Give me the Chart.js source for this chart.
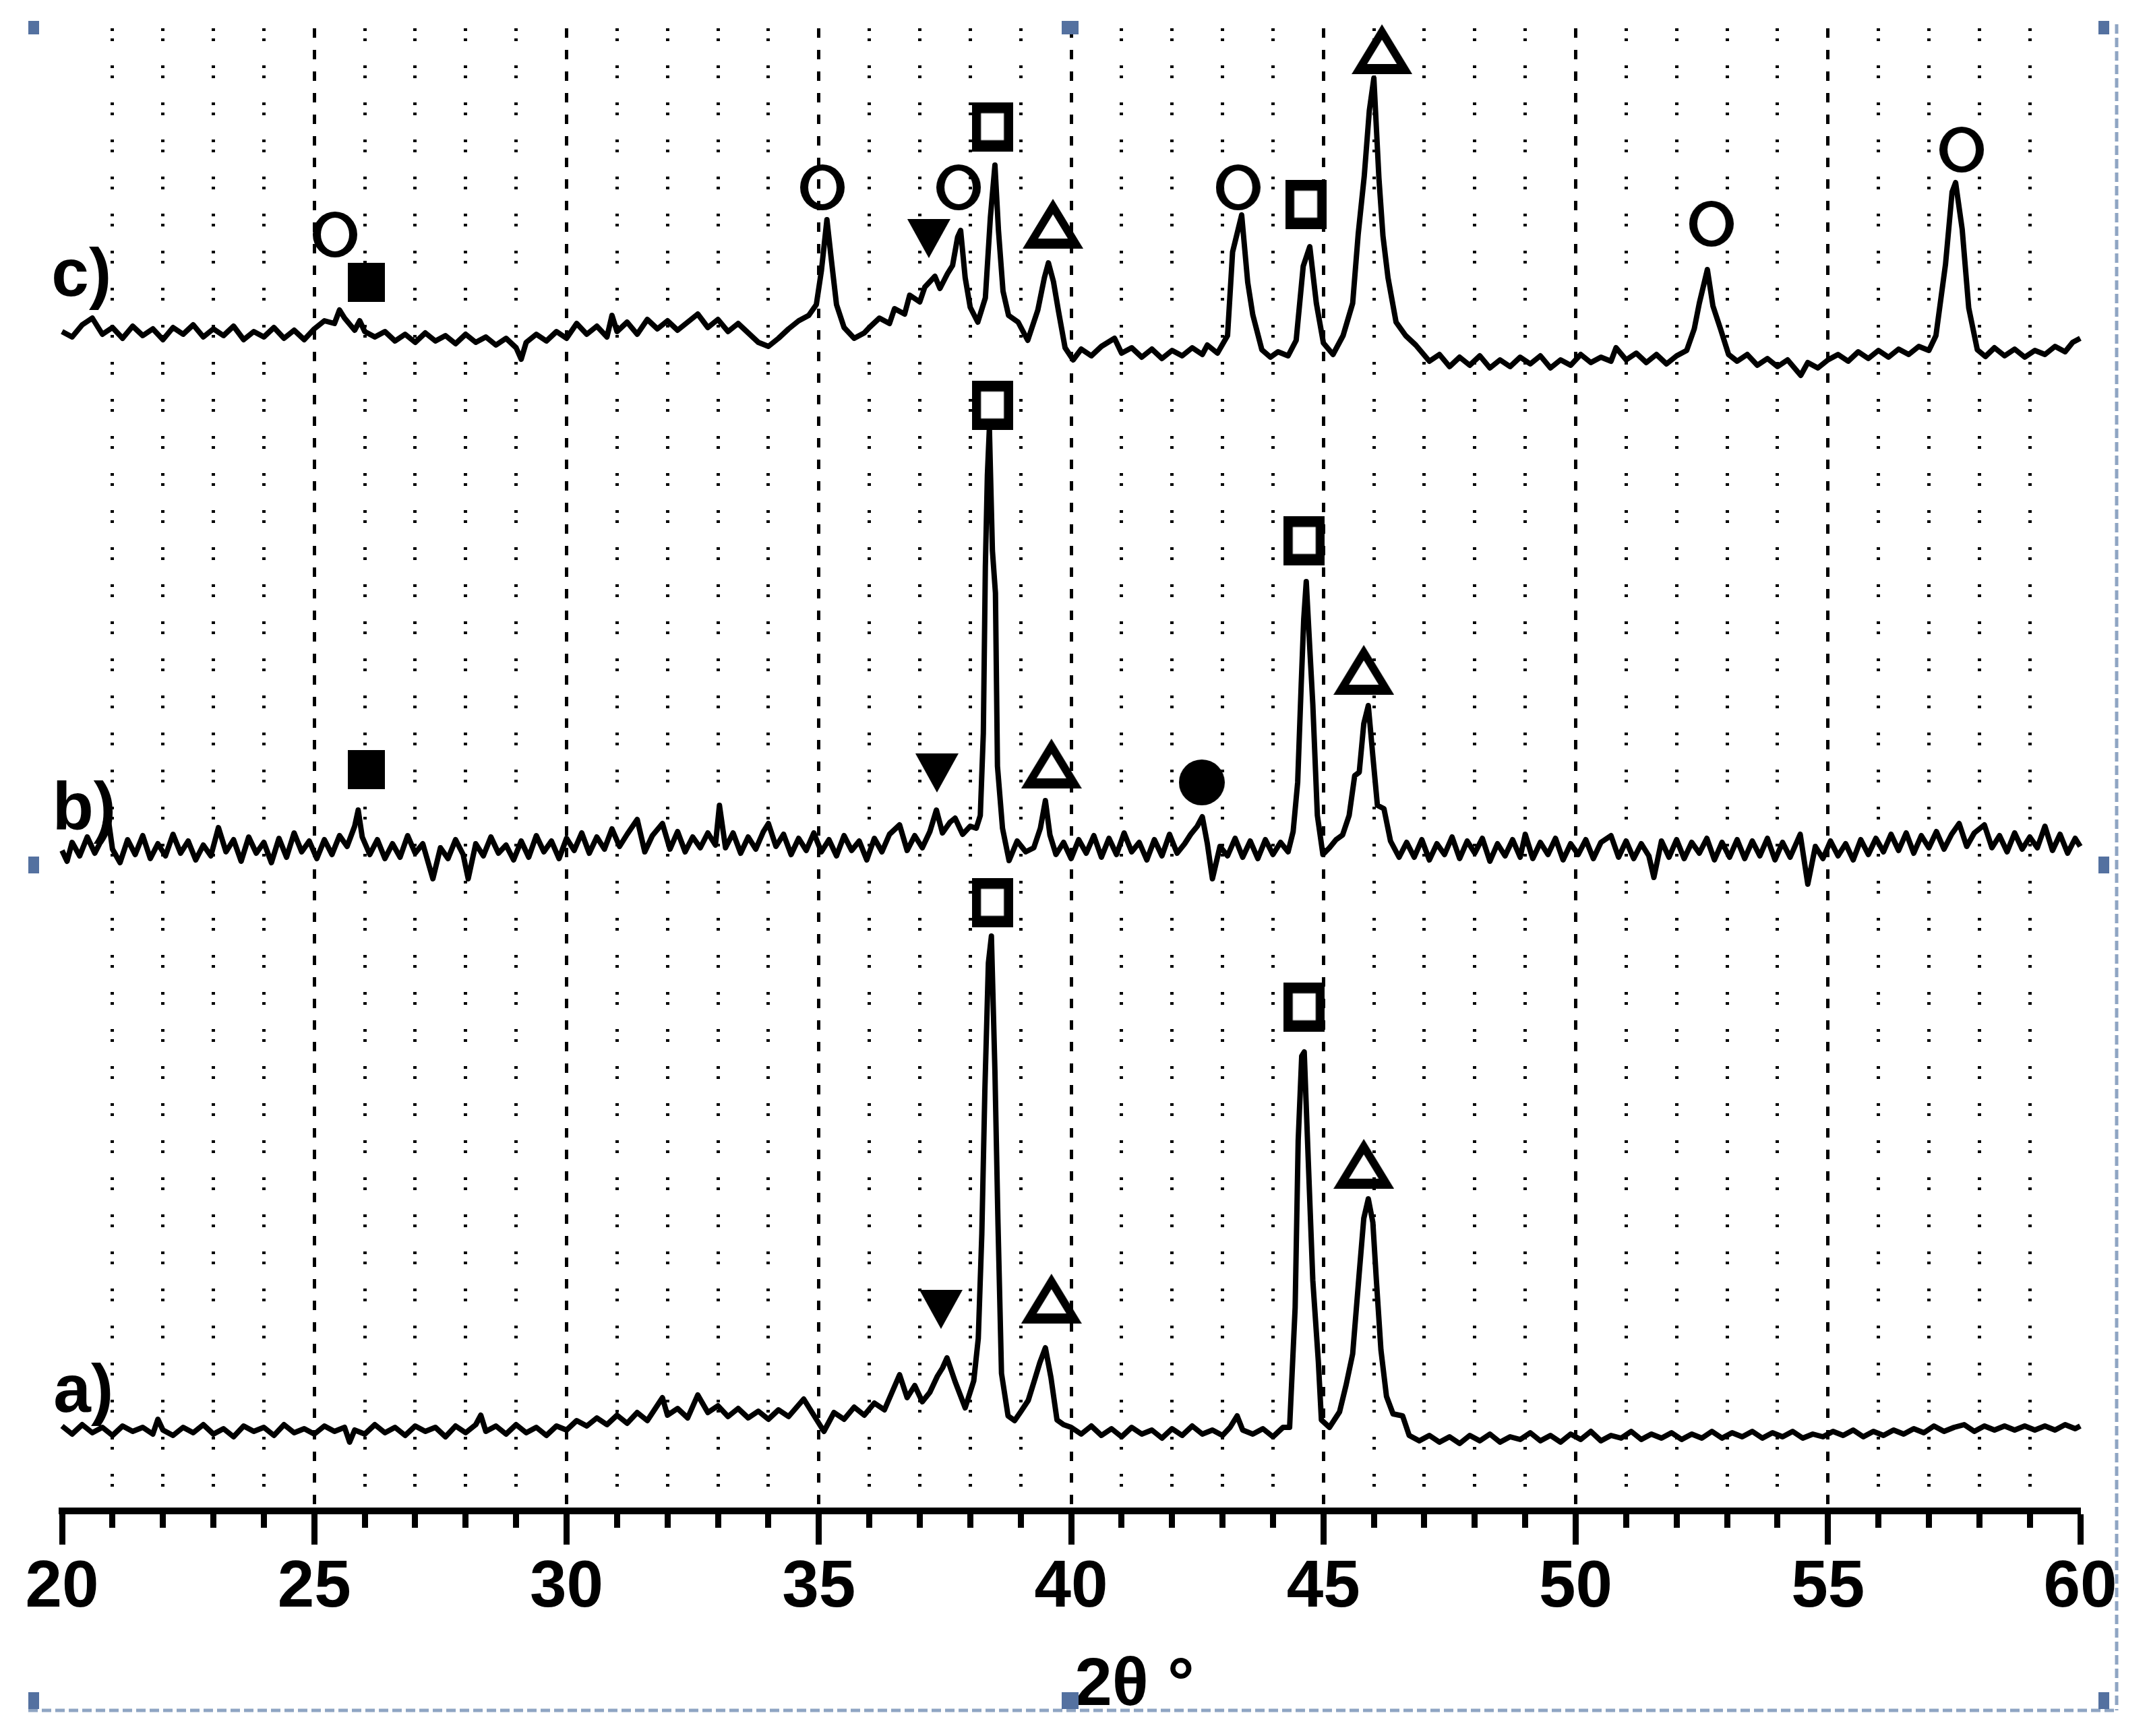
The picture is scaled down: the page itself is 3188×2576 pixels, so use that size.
<!DOCTYPE html>
<html>
<head>
<meta charset="utf-8">
<script src="https://cdn.jsdelivr.net/npm/chart.js@4.4.1/dist/chart.umd.min.js"></script>
<style>
  html, body { margin: 0; padding: 0; background: #fff; }
  #wrap { width: 3188px; height: 2576px; }
</style>
</head>
<body>
<div id="wrap"><canvas id="xrd" width="3188" height="2576"></canvas></div>
<script>
// [2theta, intensity] (arbitrary units, already stacked)
const scanC = [
  [20.0,175.0],[20.2,174.2],[20.4,176.0],[20.6,177.0],[20.8,174.6],[21.0,175.6],[21.2,174.0],[21.4,175.8],
  [21.6,174.4],[21.8,175.4],[22.0,173.8],[22.2,175.6],[22.4,174.6],[22.6,176.0],[22.8,174.2],[23.0,175.4],
  [23.2,174.4],[23.4,175.8],[23.6,173.8],[23.8,175.0],[24.0,174.2],[24.2,175.6],[24.4,174.0],[24.6,175.2],
  [24.8,173.8],[25.0,175.4],[25.2,176.6],[25.4,176.2],[25.5,178.2],[25.6,177.0],[25.8,175.2],[25.9,176.6],
  [26.0,175.0],[26.2,174.2],[26.4,175.0],[26.6,173.6],[26.8,174.6],[27.0,173.4],[27.2,174.8],[27.4,173.6],
  [27.6,174.4],[27.8,173.2],[28.0,174.6],[28.2,173.4],[28.4,174.2],[28.6,173.0],[28.8,174.0],[29.0,172.6],
  [29.1,170.9],[29.2,173.4],[29.4,174.6],[29.6,173.6],[29.8,175.0],[30.0,174.0],[30.2,176.2],[30.4,174.6],
  [30.6,175.8],[30.8,174.2],[30.9,177.4],[31.0,175.0],[31.2,176.4],[31.4,174.6],[31.6,176.8],[31.8,175.4],
  [32.0,176.6],[32.2,175.2],[32.4,176.4],[32.6,177.6],[32.8,175.6],[33.0,176.8],[33.2,175.0],[33.4,176.2],
  [33.6,174.8],[33.8,173.4],[34.0,172.8],[34.2,174.0],[34.4,175.4],[34.6,176.6],[34.8,177.4],[34.95,179.0],
  [35.05,184.0],[35.16,191.6],[35.25,185.5],[35.35,179.0],[35.5,175.6],[35.7,174.0],[35.9,174.8],[36.0,175.6],
  [36.2,177.0],[36.4,176.2],[36.5,178.4],[36.7,177.6],[36.8,180.4],[37.0,179.4],[37.1,181.6],[37.3,183.2],
  [37.4,181.4],[37.55,183.6],[37.65,184.8],[37.75,189.0],[37.81,190.0],[37.9,183.0],[38.0,178.6],[38.15,176.4],
  [38.3,180.0],[38.4,192.0],[38.49,199.7],[38.56,190.0],[38.65,181.0],[38.76,177.4],[38.95,176.4],[39.14,173.7],
  [39.34,178.2],[39.47,183.0],[39.55,185.2],[39.65,182.4],[39.75,178.0],[39.88,172.6],[40.04,170.8],[40.2,172.4],
  [40.4,171.4],[40.6,172.8],[40.86,174.0],[41.0,171.8],[41.2,172.6],[41.4,171.2],[41.6,172.4],[41.8,171.0],
  [42.0,172.2],[42.2,171.4],[42.4,172.6],[42.6,171.6],[42.7,173.0],[42.9,171.8],[43.1,174.4],[43.2,186.8],
  [43.38,192.3],[43.5,182.3],[43.6,177.5],[43.78,172.3],[43.95,171.2],[44.1,172.0],[44.3,171.4],[44.46,173.7],
  [44.6,184.7],[44.73,187.6],[44.86,179.2],[45.0,173.3],[45.19,171.6],[45.39,174.4],[45.58,179.2],[45.69,189.5],
  [45.81,198.1],[45.91,207.8],[46.0,212.6],[46.1,197.8],[46.18,189.2],[46.28,183.0],[46.44,176.4],[46.63,174.4],
  [46.83,173.0],[47.1,170.6],[47.3,171.6],[47.5,169.8],[47.7,171.2],[47.9,170.0],[48.1,171.4],[48.3,169.6],
  [48.5,170.8],[48.7,169.8],[48.9,171.2],[49.1,170.2],[49.3,171.4],[49.5,169.6],[49.7,170.8],[49.9,170.0],
  [50.1,171.6],[50.3,170.4],[50.5,171.2],[50.7,170.6],[50.8,172.6],[51.0,170.8],[51.2,171.8],[51.4,170.4],
  [51.6,171.6],[51.8,170.2],[52.0,171.4],[52.2,172.2],[52.35,175.4],[52.45,179.2],[52.61,184.2],[52.72,178.8],
  [52.87,175.4],[53.03,171.6],[53.2,170.6],[53.4,171.6],[53.6,170.0],[53.8,171.0],[54.0,169.8],[54.2,170.8],
  [54.46,168.5],[54.6,170.4],[54.8,169.6],[55.0,170.8],[55.2,171.6],[55.4,170.6],[55.6,172.0],[55.8,171.0],
  [56.0,172.2],[56.2,171.2],[56.4,172.4],[56.6,171.6],[56.8,172.8],[57.0,172.2],[57.14,174.4],[57.33,185.0],
  [57.46,195.7],[57.53,197.1],[57.66,190.2],[57.79,178.5],[57.96,172.3],[58.12,171.3],[58.3,172.6],[58.5,171.4],
  [58.7,172.4],[58.9,171.2],[59.1,172.2],[59.3,171.6],[59.5,172.8],[59.7,172.0],[59.85,173.4],[60.0,174.0]
];

const scanB = [
  [20.0,98.0],[20.1,96.4],[20.2,99.2],[20.35,97.2],[20.5,100.0],[20.65,97.6],[20.8,99.8],[20.9,103.6],
  [21.0,98.2],[21.15,96.2],[21.3,99.6],[21.45,97.4],[21.6,100.2],[21.75,96.8],[21.9,99.0],[22.05,97.2],
  [22.2,100.4],[22.35,97.6],[22.5,99.4],[22.65,96.6],[22.8,98.8],[22.95,97.2],[23.1,101.4],[23.25,97.8],
  [23.4,99.6],[23.55,96.4],[23.7,100.0],[23.85,97.6],[24.0,99.2],[24.15,96.2],[24.3,99.8],[24.45,97.0],
  [24.6,100.6],[24.75,97.8],[24.9,99.4],[25.05,96.8],[25.2,99.6],[25.35,97.4],[25.5,100.2],[25.65,98.6],
  [25.8,101.6],[25.87,104.0],[25.95,100.0],[26.1,97.4],[26.25,99.6],[26.4,96.8],[26.55,99.0],[26.7,97.0],
  [26.85,100.2],[27.0,97.6],[27.15,99.0],[27.35,93.8],[27.5,98.4],[27.65,96.8],[27.8,99.6],[27.95,97.4],
  [28.05,93.8],[28.2,99.0],[28.35,97.2],[28.5,100.0],[28.65,97.6],[28.8,98.8],[28.95,96.6],[29.1,99.4],
  [29.25,97.0],[29.4,100.2],[29.55,97.8],[29.7,99.4],[29.85,96.8],[30.0,99.8],[30.15,98.0],[30.3,100.6],
  [30.45,97.6],[30.6,100.0],[30.75,98.2],[30.9,101.2],[31.05,98.6],[31.2,100.4],[31.4,102.6],[31.55,97.8],
  [31.7,100.2],[31.9,102.0],[32.05,98.2],[32.2,100.8],[32.35,97.8],[32.5,100.0],[32.65,98.4],[32.8,100.6],
  [32.95,98.8],[33.03,104.7],[33.15,98.4],[33.3,100.6],[33.45,97.6],[33.6,100.0],[33.75,98.2],[33.9,100.8],
  [34.0,102.0],[34.15,98.6],[34.3,100.4],[34.45,97.4],[34.6,99.8],[34.75,98.0],[34.9,100.6],[35.05,97.8],
  [35.2,99.6],[35.35,97.2],[35.5,100.2],[35.65,98.0],[35.8,99.4],[35.95,96.6],[36.1,99.8],[36.25,97.8],
  [36.4,100.4],[36.6,101.8],[36.75,98.0],[36.9,100.2],[37.05,98.4],[37.2,100.8],[37.33,104.0],[37.45,100.6],
  [37.6,102.2],[37.7,102.8],[37.85,100.4],[38.0,101.6],[38.12,101.3],[38.2,103.2],[38.26,115.4],[38.3,140.1],
  [38.34,153.7],[38.38,160.7],[38.44,142.5],[38.5,136.2],[38.54,110.5],[38.64,101.3],[38.77,96.5],[38.93,99.4],
  [39.1,97.8],[39.26,98.4],[39.39,101.3],[39.49,105.4],[39.58,100.3],[39.7,97.4],[39.85,99.2],[40.0,96.8],
  [40.15,99.6],[40.3,97.6],[40.45,100.2],[40.6,97.0],[40.75,99.8],[40.9,97.4],[41.05,100.6],[41.2,97.8],
  [41.35,99.2],[41.5,96.6],[41.65,99.6],[41.8,97.2],[41.95,100.4],[42.1,97.6],[42.25,99.0],[42.37,100.4],
  [42.5,101.6],[42.6,103.0],[42.7,99.0],[42.8,93.8],[42.95,98.6],[43.1,97.2],[43.25,99.8],[43.4,97.0],
  [43.55,99.4],[43.7,96.8],[43.85,99.6],[44.0,97.4],[44.15,99.2],[44.3,97.8],[44.4,100.8],[44.49,108.1],
  [44.56,122.6],[44.61,132.3],[44.66,137.9],[44.73,128.0],[44.79,119.7],[44.88,103.2],[44.99,97.4],[45.12,98.4],
  [45.25,99.6],[45.38,100.3],[45.51,103.2],[45.62,109.1],[45.71,109.6],[45.8,116.8],[45.89,119.5],[45.98,112.0],
  [46.07,104.7],[46.2,104.2],[46.33,99.4],[46.5,97.0],[46.65,99.2],[46.8,97.0],[46.95,99.6],[47.1,96.6],
  [47.25,99.0],[47.4,97.4],[47.55,100.0],[47.7,96.8],[47.85,99.4],[48.0,97.6],[48.15,99.8],[48.3,96.4],
  [48.45,99.0],[48.6,97.2],[48.75,99.6],[48.9,97.0],[49.0,100.4],[49.15,96.8],[49.3,99.2],[49.45,97.4],
  [49.6,99.8],[49.75,96.6],[49.9,99.0],[50.05,97.4],[50.2,99.6],[50.35,96.8],[50.5,99.2],[50.7,100.2],
  [50.85,97.0],[51.0,99.4],[51.15,96.8],[51.3,99.0],[51.45,97.2],[51.55,94.0],[51.7,99.4],[51.85,97.0],
  [52.0,99.6],[52.15,96.8],[52.3,99.2],[52.45,97.6],[52.6,99.8],[52.75,96.6],[52.9,99.2],[53.05,97.0],
  [53.2,99.6],[53.35,96.8],[53.5,99.4],[53.65,97.2],[53.8,99.8],[53.95,96.6],[54.1,99.2],[54.25,97.0],
  [54.45,100.4],[54.6,93.0],[54.75,98.6],[54.9,96.8],[55.05,99.4],[55.2,97.2],[55.35,99.0],[55.5,96.6],
  [55.65,99.6],[55.8,97.4],[55.95,99.8],[56.1,97.8],[56.25,100.4],[56.4,98.0],[56.55,100.6],[56.7,97.6],
  [56.85,100.2],[57.0,98.4],[57.15,100.8],[57.3,98.2],[57.45,100.4],[57.6,102.0],[57.75,98.6],[57.9,100.6],
  [58.1,101.8],[58.25,98.4],[58.4,100.2],[58.55,97.8],[58.7,100.6],[58.85,98.2],[59.0,100.0],[59.15,98.4],
  [59.3,101.6],[59.45,98.0],[59.6,100.4],[59.75,97.6],[59.9,99.8],[60.0,98.6]
];

const scanA = [
  [20.0,12.6],[20.2,11.4],[20.4,12.8],[20.6,11.6],[20.8,12.4],[21.0,11.2],[21.2,12.6],[21.4,11.8],
  [21.6,12.4],[21.8,11.4],[21.9,13.6],[22.0,12.0],[22.2,11.2],[22.4,12.4],[22.6,11.6],[22.8,12.8],
  [23.0,11.4],[23.2,12.2],[23.4,11.0],[23.6,12.6],[23.8,11.8],[24.0,12.4],[24.2,11.2],[24.4,12.8],
  [24.6,11.6],[24.8,12.2],[25.0,11.4],[25.2,12.6],[25.4,11.8],[25.6,12.4],[25.7,10.2],[25.8,12.0],
  [26.0,11.4],[26.2,12.8],[26.4,11.6],[26.6,12.4],[26.8,11.2],[27.0,12.6],[27.2,11.8],[27.4,12.4],
  [27.6,11.0],[27.8,12.6],[28.0,11.6],[28.2,12.8],[28.3,14.2],[28.4,11.8],[28.6,12.6],[28.8,11.4],
  [29.0,12.8],[29.2,11.6],[29.4,12.4],[29.6,11.2],[29.8,12.6],[30.0,12.0],[30.2,13.4],[30.4,12.6],
  [30.6,13.8],[30.8,12.8],[31.0,14.2],[31.2,13.0],[31.4,14.6],[31.6,13.4],[31.9,16.8],[32.0,14.2],
  [32.2,15.2],[32.4,13.8],[32.6,17.2],[32.8,14.6],[33.0,15.6],[33.2,14.0],[33.4,15.2],[33.6,13.8],
  [33.8,14.8],[34.0,13.6],[34.2,15.0],[34.4,14.0],[34.7,16.6],[34.9,14.2],[35.1,11.8],[35.3,14.6],
  [35.5,13.6],[35.7,15.4],[35.9,14.2],[36.1,16.0],[36.3,15.0],[36.45,17.6],[36.6,20.2],[36.75,16.8],
  [36.9,18.6],[37.05,16.2],[37.2,17.6],[37.35,20.0],[37.45,21.2],[37.54,22.7],[37.7,19.2],[37.9,15.3],
  [38.07,19.3],[38.16,25.6],[38.23,41.1],[38.29,62.3],[38.36,81.3],[38.42,85.3],[38.49,65.2],[38.55,42.8],
  [38.62,20.4],[38.75,14.1],[38.88,13.4],[39.0,14.7],[39.15,16.4],[39.27,19.3],[39.38,22.0],[39.49,24.2],
  [39.6,19.8],[39.72,13.5],[39.85,12.8],[40.0,12.4],[40.2,11.4],[40.4,12.6],[40.6,11.2],[40.8,12.2],
  [41.0,11.0],[41.2,12.4],[41.4,11.4],[41.6,12.0],[41.8,10.8],[42.0,12.2],[42.2,11.2],[42.4,12.6],
  [42.6,11.4],[42.8,12.0],[43.0,11.2],[43.15,12.4],[43.29,14.1],[43.4,12.0],[43.6,11.4],[43.8,12.2],
  [44.0,11.0],[44.2,12.4],[44.33,12.4],[44.44,30.2],[44.5,54.9],[44.57,67.5],[44.62,68.1],[44.7,52.0],
  [44.79,34.2],[44.9,22.1],[44.96,13.5],[45.12,12.4],[45.32,14.7],[45.45,18.7],[45.58,23.3],[45.71,35.3],
  [45.8,43.4],[45.89,46.3],[45.98,42.8],[46.05,34.2],[46.14,23.9],[46.25,17.0],[46.38,14.4],[46.57,14.1],
  [46.7,11.2],[46.9,10.4],[47.1,11.2],[47.3,10.2],[47.5,11.0],[47.7,10.0],[47.9,11.2],[48.1,10.4],
  [48.3,11.4],[48.5,10.2],[48.7,11.0],[48.9,10.6],[49.1,11.6],[49.3,10.4],[49.5,11.2],[49.7,10.2],
  [49.9,11.4],[50.1,10.6],[50.3,11.8],[50.5,10.4],[50.7,11.2],[50.9,10.8],[51.1,11.8],[51.3,10.6],
  [51.5,11.4],[51.7,10.8],[51.9,11.6],[52.1,10.6],[52.3,11.4],[52.5,10.8],[52.7,11.8],[52.9,10.8],
  [53.1,11.6],[53.3,11.0],[53.5,11.8],[53.7,10.8],[53.9,11.6],[54.1,11.0],[54.3,11.8],[54.5,10.8],
  [54.7,11.4],[54.9,11.0],[55.1,11.8],[55.3,11.2],[55.5,12.0],[55.7,11.0],[55.9,11.8],[56.1,11.2],
  [56.3,12.0],[56.5,11.4],[56.7,12.2],[56.9,11.6],[57.1,12.6],[57.3,11.8],[57.5,12.4],[57.7,12.8],
  [57.9,11.8],[58.1,12.6],[58.3,12.0],[58.5,12.6],[58.7,12.0],[58.9,12.6],[59.1,12.0],[59.3,12.6],
  [59.5,12.0],[59.7,12.8],[59.9,12.2],[60.0,12.6]
];

// phase symbols placed over the peaks
const markerKind = [
  'openCircle','fillSquare','openCircle','fillTriDown','openCircle','openSquare','openTri','openCircle','openSquare','openTri','openCircle','openCircle',
  'fillSquare','fillTriDown','openSquare','openTri','fillCircle','openSquare','openTri',
  'fillTriDown','openSquare','openTri','openSquare','openTri'
];
const markerX = [
  25.41, 26.03, 35.07, 37.18, 37.77, 38.44, 39.64, 43.31, 44.65, 46.16, 52.69, 57.65,
  26.03, 37.34, 38.44, 39.61, 42.59, 44.62, 45.80,
  37.42, 38.44, 39.61, 44.62, 45.80
];
const markerY = [
  189.4, 182.3, 196.4, 188.8, 196.4, 205.4, 191.0, 196.4, 193.9, 216.9, 191.0, 202.0,
  110.0, 109.5, 164.1, 110.9, 108.1, 144.0, 124.8,
  29.9, 90.3, 31.5, 74.8, 51.5
];

const tickLabels = ['20', '25', '30', '35', '40', '45', '50', '55', '60'];
const traceNames = ['a)', 'b)', 'c)'];
const traceNameX = [19.83, 19.81, 19.79];
const traceNameY = [14.7, 101.1, 180.3];
const axisTitle = '2θ °';

const FONT = '"Liberation Sans", Arial, sans-serif';

function glyph(w, h, draw) {
  const c = document.createElement('canvas');
  c.width = w; c.height = h;
  const g = c.getContext('2d');
  g.fillStyle = '#000';
  g.beginPath();
  draw(g);
  g.fill('evenodd');
  return c;
}

const glyphs = {
  openCircle: glyph(66, 68, g => {
    g.ellipse(33, 34, 33, 34, 0, 0, Math.PI * 2);
    g.moveTo(54, 34);
    g.ellipse(33, 34, 21, 25, 0, 0, Math.PI * 2);
  }),
  openSquare: glyph(61, 73, g => { g.rect(0, 0, 61, 73); g.rect(13.5, 16.5, 34, 40); }),
  openTri: glyph(90, 74, g => {
    g.moveTo(45, 0); g.lineTo(90, 74); g.lineTo(0, 74); g.closePath();
    g.moveTo(45, 23); g.lineTo(67, 59); g.lineTo(23, 59); g.closePath();
  }),
  fillTriDown: glyph(64, 58, g => { g.moveTo(0, 0); g.lineTo(64, 0); g.lineTo(32, 58); g.closePath(); }),
  fillSquare: glyph(55, 58, g => g.rect(0, 0, 55, 58)),
  fillCircle: glyph(68, 68, g => g.arc(34, 34, 34, 0, Math.PI * 2))
};

function traceSet(data) {
  return {
    data: data,
    borderColor: '#000',
    borderWidth: 8,
    pointRadius: 0,
    tension: 0,
    borderJoinStyle: 'round',
    clip: false
  };
}

// labels, axis title and the selection frame round the picture
const decor = {
  id: 'decor',
  afterDraw(chart) {
    const ctx = chart.ctx;
    const xs = chart.scales.x;
    const ys = chart.scales.y;
    ctx.save();
    ctx.fillStyle = '#000';
    ctx.font = 'bold 100px ' + FONT;
    ctx.textAlign = 'left';
    ctx.textBaseline = 'alphabetic';
    traceNames.forEach((t, i) => {
      ctx.fillText(t, xs.getPixelForValue(traceNameX[i]), ys.getPixelForValue(traceNameY[i]));
    });
    ctx.fillText(axisTitle, xs.getPixelForValue(40.07), 2530);

    // dashed frame (right and bottom edges visible)
    ctx.strokeStyle = '#8fa5c3';
    ctx.lineWidth = 5;
    ctx.setLineDash([14, 6]);
    ctx.beginPath();
    ctx.moveTo(42, 2538); ctx.lineTo(3140, 2538);
    ctx.moveTo(3140, 36); ctx.lineTo(3140, 2538);
    ctx.stroke();
    ctx.setLineDash([]);

    ctx.fillStyle = '#5471a0';
    const hx = [42, 1575, 3113];
    const hy = [31, 1271, 2511];
    hy.forEach((y, r) => hx.forEach((x, c) => {
      if (r === 1 && c === 1) return;
      const w = c === 1 ? 25 : 16;
      const h = r === 0 ? 20 : 25;
      ctx.fillRect(x, y, w, h);
    }));
    ctx.restore();
  }
};

new Chart(document.getElementById('xrd'), {
  type: 'line',
  data: {
    datasets: [
      traceSet(scanA),
      traceSet(scanB),
      traceSet(scanC),
      {
        data: markerX.map((x, i) => ({ x: x, y: markerY[i] })),
        showLine: false,
        pointStyle: ctx => glyphs[markerKind[ctx.dataIndex]],
        pointRadius: 30,
        clip: false
      }
    ]
  },
  options: {
    responsive: false,
    animation: false,
    devicePixelRatio: 1,
    layout: { padding: { left: 92, right: 102, top: 42, bottom: 0 } },
    plugins: { legend: { display: false }, tooltip: { enabled: false } },
    scales: {
      x: {
        type: 'linear', position: 'bottom', min: 20, max: 60, weight: 0,
        afterFit: s => { s.height = 0; },
        ticks: { stepSize: 1, autoSkip: false, display: false },
        grid: {
          color: '#000',
          lineWidth: ctx => (ctx.tick.value === 20 || ctx.tick.value === 60) ? 0 : 5,
          tickWidth: ctx => ctx.tick.value % 5 === 0 ? 0 : 9,
          tickColor: '#000',
          tickLength: 25
        },
        border: {
          display: false,
          dash: ctx => ctx.tick && ctx.tick.value % 5 === 0 ? [14, 18] : [4, 11, 4, 36]
        }
      },
      x2: {
        type: 'linear', position: 'bottom', min: 20, max: 60, weight: 1,
        afterFit: s => { s.height = 334; },
        ticks: {
          stepSize: 5, autoSkip: false, maxRotation: 0, padding: 6, color: '#000',
          font: { family: FONT, size: 98, weight: 'bold' },
          callback: (v, i) => tickLabels[i]
        },
        grid: { drawOnChartArea: false, color: '#000', tickColor: '#000', tickLength: 50, tickWidth: 9 },
        border: { display: true, color: '#000', width: 10 }
      },
      y: { display: false, min: 0, max: 220 }
    }
  },
  plugins: [decor]
});
</script>
</body>
</html>
